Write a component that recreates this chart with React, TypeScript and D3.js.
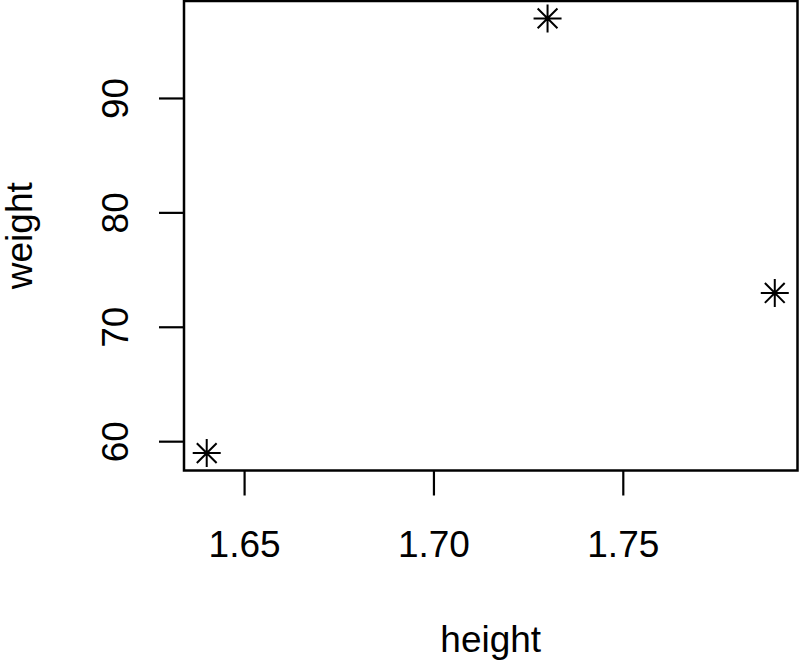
import * as d3 from "d3";

const heights = [1.64, 1.73, 1.79];
const weights = [59, 97, 73];
const xTicks = [1.65, 1.7, 1.75];
const yTicks = [60, 70, 80, 90];

const W = 800;
const H = 661;
const left = 184;
const right = 797.5;
const top = 1;
const bottom = 470.5;

// R-style 4% padding on each side of the data range
const pad = (ext: [number, number]): [number, number] => {
  const d = (ext[1] - ext[0]) * 0.04;
  return [ext[0] - d, ext[1] + d];
};

const x = d3
  .scaleLinear()
  .domain(pad(d3.extent(heights) as [number, number]))
  .range([left, right]);
const y = d3
  .scaleLinear()
  .domain(pad(d3.extent(weights) as [number, number]))
  .range([bottom, top]);

const r = 9.9;
const star = (cx: number, cy: number) => {
  const p = d3.path();
  p.moveTo(cx - r, cy - r);
  p.lineTo(cx + r, cy + r);
  p.moveTo(cx - r, cy + r);
  p.lineTo(cx + r, cy - r);
  const s = r * Math.SQRT2;
  p.moveTo(cx - s, cy);
  p.lineTo(cx + s, cy);
  p.moveTo(cx, cy - s);
  p.lineTo(cx, cy + s);
  return p.toString();
};

function App() {
  const font = "'Liberation Sans', Arial, sans-serif";
  return (
    <svg
      width={W}
      height={H}
      style={{ position: "absolute", left: 0, top: 0, background: "white" }}
      fontFamily={font}
    >
      <rect
        x={left}
        y={top}
        width={right - left}
        height={bottom - top}
        fill="none"
        stroke="black"
        strokeWidth={2.5}
      />
      {xTicks.map((t) => (
        <g key={t}>
          <line x1={x(t)} x2={x(t)} y1={bottom} y2={bottom + 25} stroke="black" strokeWidth={2.2} />
          <text x={x(t)} y={557} fontSize={37} textAnchor="middle">
            {t.toFixed(2)}
          </text>
        </g>
      ))}
      {yTicks.map((t) => (
        <g key={t}>
          <line x1={left - 25} x2={left} y1={y(t)} y2={y(t)} stroke="black" strokeWidth={2.2} />
          <text
            transform={`translate(128,${y(t)}) rotate(-90)`}
            fontSize={37}
            textAnchor="middle"
          >
            {t}
          </text>
        </g>
      ))}
      {heights.map((h, i) => (
        <path key={i} d={star(x(h), y(weights[i]))} stroke="black" strokeWidth={2} fill="none" />
      ))}
      <text x={(left + right) / 2} y={652} fontSize={37} textAnchor="middle">
        height
      </text>
      <text
        transform={`translate(32,${(top + bottom) / 2}) rotate(-90)`}
        fontSize={37}
        textAnchor="middle"
      >
        weight
      </text>
    </svg>
  );
}

export default App;
